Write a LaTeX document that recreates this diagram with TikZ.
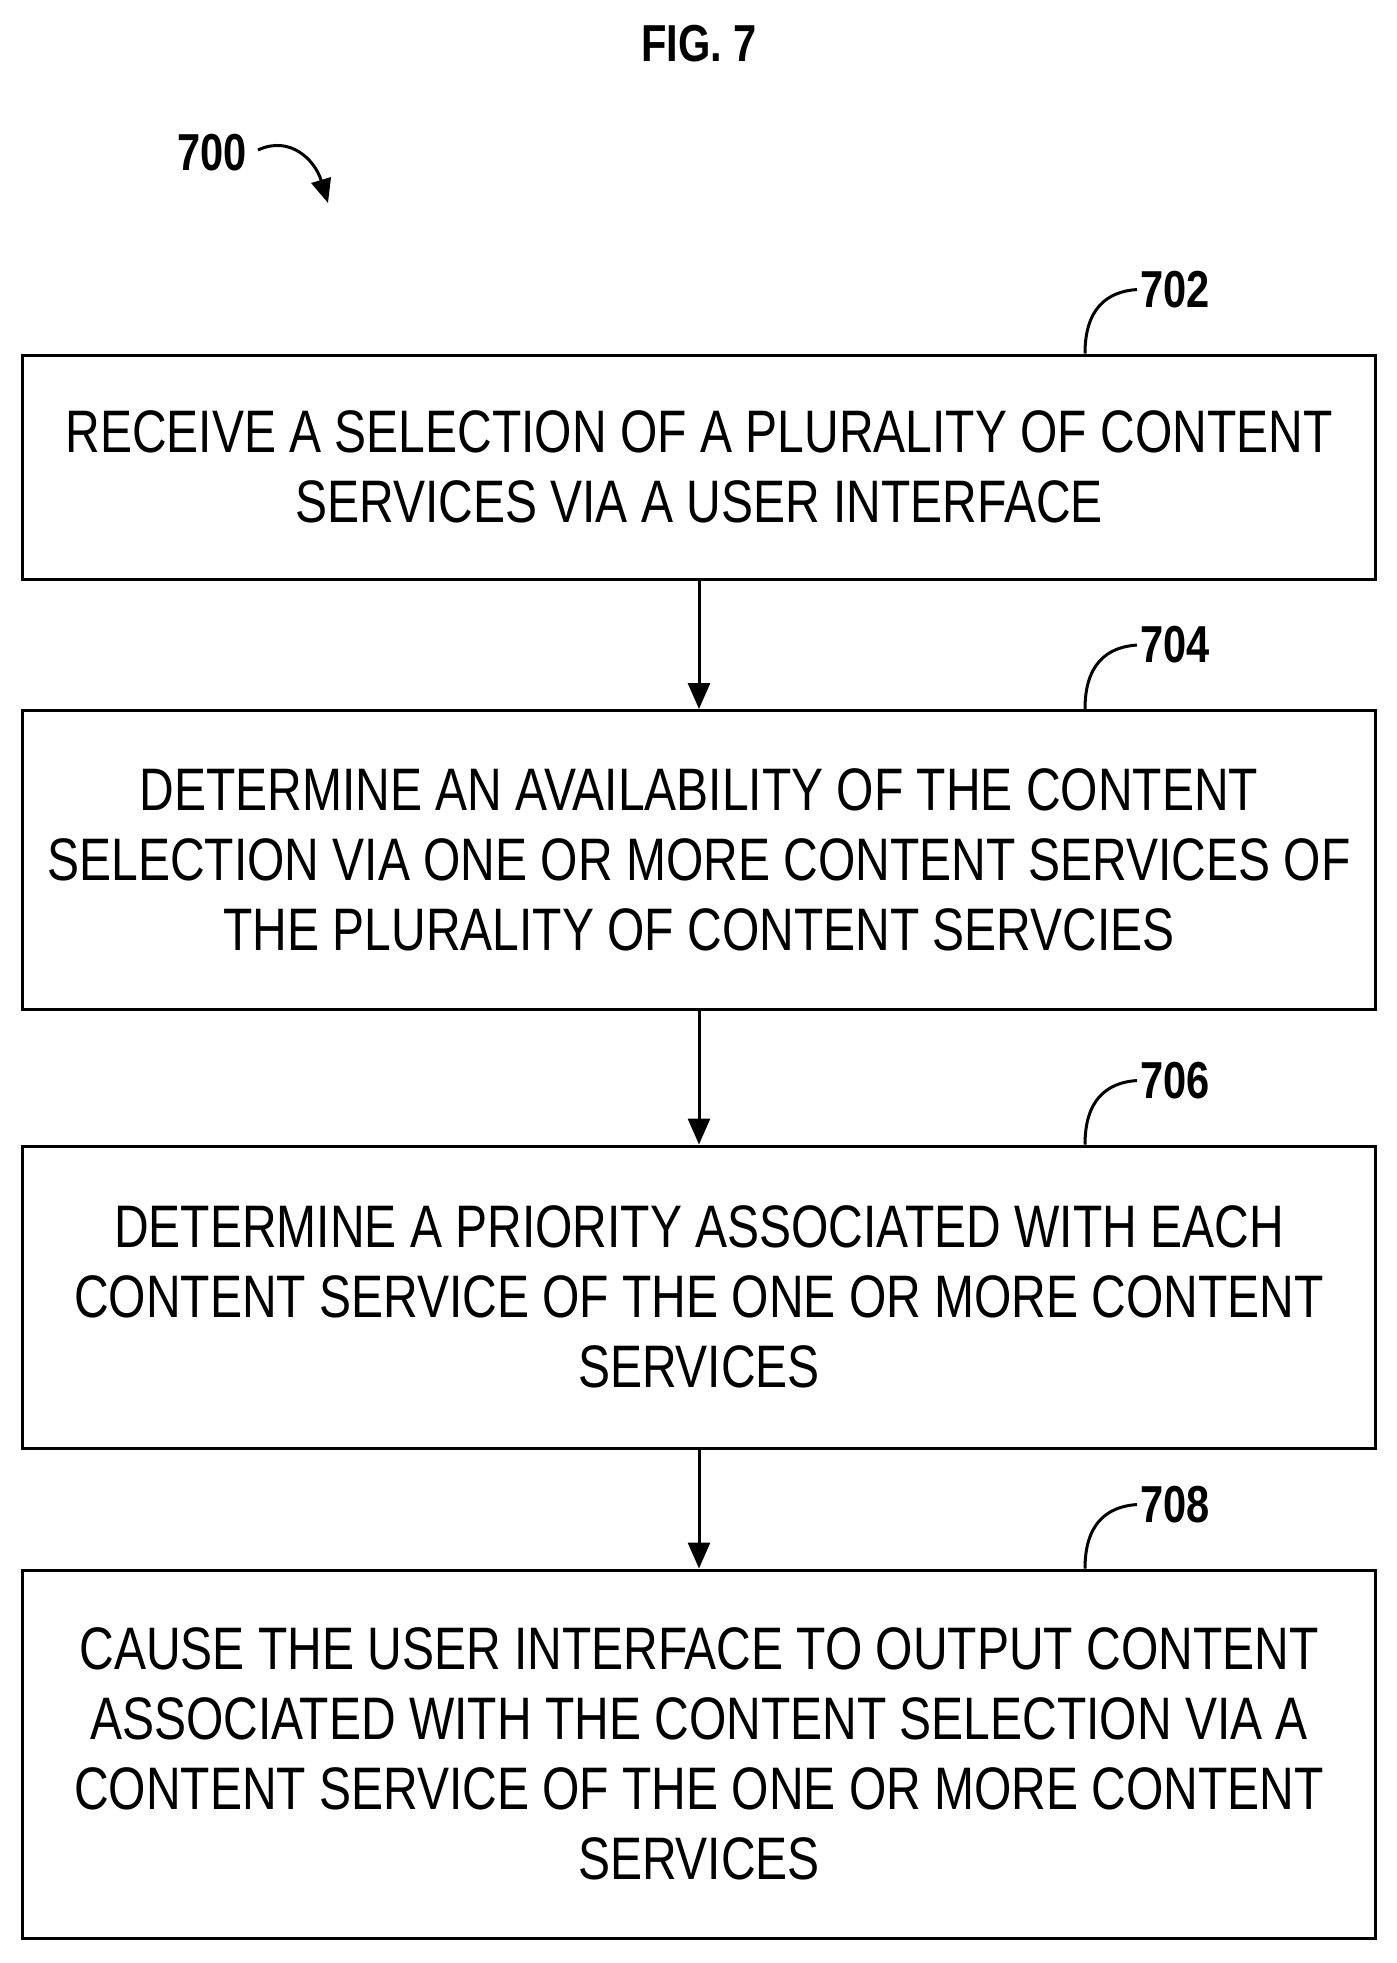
\documentclass[tikz,border=0pt]{standalone}
\usepackage{fontspec}
\setmainfont{Liberation Sans}[FakeStretch=0.8]
\usetikzlibrary{arrows.meta}
\begin{document}
\begin{tikzpicture}[x=1pt,y=-1pt,
  stepbox/.style={draw,line width=3pt,minimum width=1353pt,align=center,inner sep=0pt,font=\fontsize{60}{70}\selectfont},
  lbl/.style={font=\bfseries\fontsize{52}{60}\selectfont},
  arr/.style={line width=3pt,-{Triangle[length=26pt,width=22pt]}},
  hook/.style={line width=3pt}]
\useasboundingbox (0,0) rectangle (1397,1963);
\node[lbl] (fig) at (699,44) {FIG. 7};
\node[lbl] (n700) at (212,153) {700};
\coordinate (a0) at (258,150);
\coordinate (a1) at (328,203);
\draw[line width=3pt,-{Triangle[length=24pt,width=20pt]}] (a0) .. controls (290,135) and (315,160) .. (a1);
\node[stepbox,minimum height=224pt] (b1) at (699,467) {RECEIVE A SELECTION OF A PLURALITY OF CONTENT\\SERVICES VIA A USER INTERFACE};
\node[stepbox,minimum height=299pt] (b2) at (699,860) {DETERMINE AN AVAILABILITY OF THE CONTENT\\SELECTION VIA ONE OR MORE CONTENT SERVICES OF\\THE PLURALITY OF CONTENT SERVCIES};
\node[stepbox,minimum height=302pt] (b3) at (699,1297) {DETERMINE A PRIORITY ASSOCIATED WITH EACH\\CONTENT SERVICE OF THE ONE OR MORE CONTENT\\SERVICES};
\node[stepbox,minimum height=368pt] (b4) at (699,1754) {CAUSE THE USER INTERFACE TO OUTPUT CONTENT\\ASSOCIATED WITH THE CONTENT SELECTION VIA A\\CONTENT SERVICE OF THE ONE OR MORE CONTENT\\SERVICES};
\draw[arr] (b1) -- (b2);
\draw[arr] (b2) -- (b3);
\draw[arr] (b3) -- (b4);
\foreach \b/\t in {b1/702,b2/704,b3/706,b4/708}{
  \node[lbl,anchor=west] (l\t) at ([xshift=-240pt,yshift=64pt]\b.north east) {\t};
  \draw[hook] ([xshift=-292pt]\b.north east) .. controls ([xshift=-292pt,yshift=45pt]\b.north east) and ([xshift=-270pt,yshift=62pt]\b.north east) .. (l\t.west);
}
\end{tikzpicture}
\end{document}
